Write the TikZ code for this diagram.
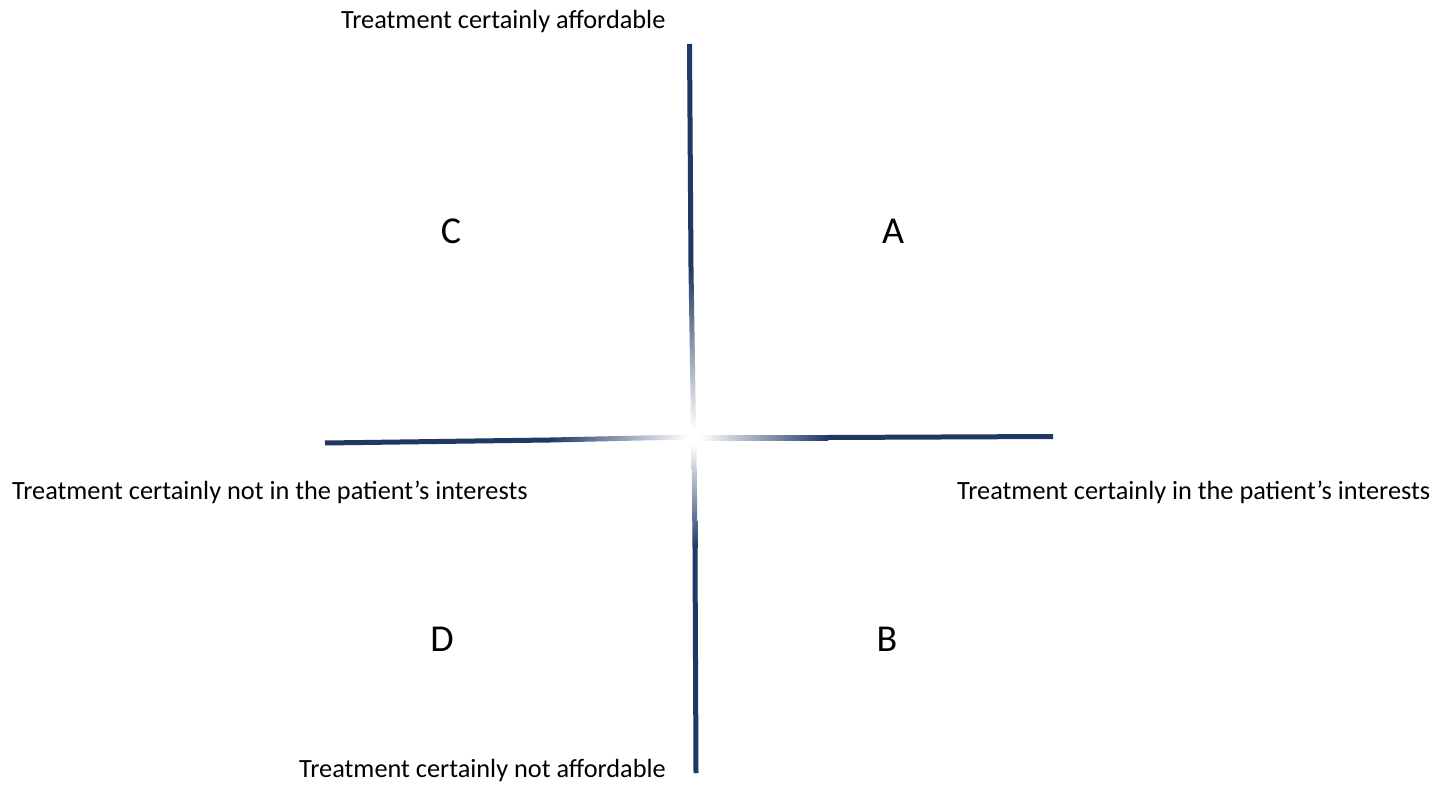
\documentclass[tikz,border=0pt]{standalone}
\usepackage{fontspec}
\setmainfont{Carlito}
\begin{document}
\definecolor{axisblue}{RGB}{31,56,100}
\begin{tikzpicture}[x=1pt,y=-1pt,
  lbl/.style={font=\fontsize{26.3}{31}\selectfont, inner sep=0pt, anchor=base west},
  quad/.style={font=\fontsize{38}{44}\selectfont, inner sep=0pt, anchor=base},
  solidaxis/.style={draw=axisblue, line width=5pt}]
\useasboundingbox[fill=white] (0,0) rectangle (1446,789);

% axis end points and the points where the solid part turns into a fade
\coordinate (top) at (689.5,44);
\coordinate (topmid) at (691,268);
\coordinate (bot) at (696,773);
\coordinate (botmid) at (695,548);
\coordinate (lft) at (325,443);
\coordinate (lftmid) at (550,440);
\coordinate (rgt) at (1053,436.5);
\coordinate (rgtmid) at (828,437.5);

% solid outer parts
\draw[solidaxis] (top) -- (topmid);
\draw[solidaxis] (botmid) -- (bot);
\draw[solidaxis] (lft) -- (lftmid);
\draw[solidaxis] (rgtmid) -- (rgt);

% inner parts fading to white at the crossing
\shade[top color=axisblue, bottom color=white]
  (688.5,268) -- (693.5,268) -- (696,430) -- (691,430) -- cycle;
\shade[top color=white, bottom color=axisblue]
  (691.5,444) -- (696.5,444) -- (697.5,548) -- (692.5,548) -- cycle;
\shade[left color=axisblue, right color=white]
  (550,437.5) -- (688,434.5) -- (688,439.5) -- (550,442.5) -- cycle;
\shade[left color=white, right color=axisblue]
  (700,435) -- (828,435) -- (828,440) -- (700,440) -- cycle;

% axis labels
\node[lbl] (ltop) at (341,29) {Treatment certainly affordable};
\node[lbl] (lbot) at (299,777) {Treatment certainly not affordable};
\node[lbl] (llft) at (12,499) {Treatment certainly not in the patient’s interests};
\node[lbl] (lrgt) at (957,499) {Treatment certainly in the patient’s interests};

% quadrant letters
\node[quad] (qc) at (451,243) {C};
\node[quad] (qa) at (893,243) {A};
\node[quad] (qd) at (442,651) {D};
\node[quad] (qb) at (887,651) {B};
\end{tikzpicture}
\end{document}
